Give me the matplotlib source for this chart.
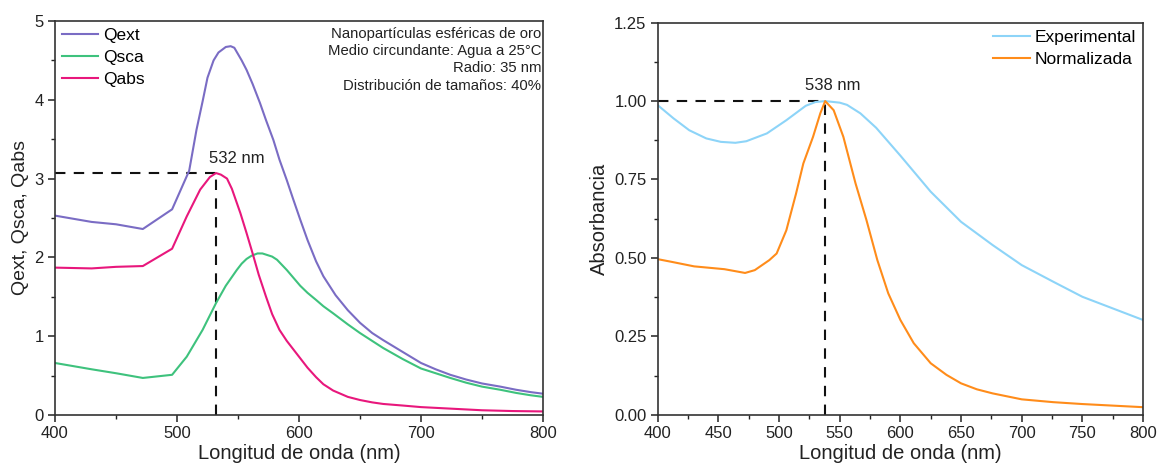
import matplotlib
matplotlib.use("Agg")
import matplotlib.pyplot as plt
from matplotlib.ticker import MultipleLocator, FormatStrFormatter

plt.rcParams['font.family'] = ['Liberation Sans', 'DejaVu Sans']

# Mie efficiencies for gold nanospheres (left panel)
wl_ext = [400, 430, 450, 472, 496, 510, 516, 521, 525, 530, 534, 540, 544, 547,
          553, 557, 562, 568, 573, 579, 584, 590, 595, 601, 607, 614, 620, 630,
          640, 650, 660, 669, 685, 700, 712, 724, 737, 750, 765, 778, 790, 800]
q_ext = [2.53, 2.45, 2.42, 2.36, 2.61, 3.10, 3.62, 3.98, 4.28, 4.50, 4.60, 4.67,
         4.68, 4.66, 4.50, 4.38, 4.20, 3.96, 3.74, 3.49, 3.24, 2.98, 2.75, 2.48,
         2.22, 1.95, 1.76, 1.52, 1.33, 1.17, 1.04, 0.95, 0.80, 0.66, 0.58, 0.51,
         0.45, 0.40, 0.36, 0.32, 0.29, 0.27]

wl_sca = [400, 430, 450, 472, 496, 508, 521, 532, 540, 549, 553, 557, 561, 566,
          570, 574, 578, 582, 590, 601, 607, 614, 620, 628, 640, 650, 660, 669,
          685, 700, 712, 724, 737, 750, 765, 778, 790, 800]
q_sca = [0.66, 0.58, 0.53, 0.47, 0.51, 0.74, 1.08, 1.42, 1.64, 1.84, 1.92, 1.98,
         2.02, 2.05, 2.05, 2.03, 2.01, 1.97, 1.84, 1.64, 1.55, 1.46, 1.38, 1.29,
         1.15, 1.04, 0.94, 0.85, 0.71, 0.59, 0.53, 0.47, 0.41, 0.36, 0.32, 0.28,
         0.25, 0.23]

wl_abs = [400, 430, 450, 472, 496, 508, 519, 527, 532, 536, 541, 545, 552, 557,
          562, 567, 573, 578, 584, 590, 595, 601, 607, 614, 620, 628, 640, 650,
          660, 669, 685, 700, 725, 750, 775, 800]
q_abs = [1.87, 1.86, 1.88, 1.89, 2.11, 2.52, 2.86, 3.02, 3.07, 3.05, 3.00, 2.87,
         2.56, 2.31, 2.05, 1.78, 1.50, 1.28, 1.08, 0.94, 0.84, 0.72, 0.60, 0.48,
         0.39, 0.31, 0.23, 0.19, 0.16, 0.14, 0.12, 0.10, 0.08, 0.06, 0.05, 0.045]

peak_abs_nm = 532
peak_abs_val = 3.07

# Measured absorbance spectra (right panel)
wl_exp = [400, 413, 426, 440, 452, 464, 473, 490, 506, 522, 530, 538, 550, 556,
          567, 580, 600, 625, 650, 676, 700, 726, 750, 775, 800]
a_exp = [0.987, 0.945, 0.907, 0.881, 0.870, 0.867, 0.872, 0.897, 0.939, 0.985,
         0.997, 1.000, 0.995, 0.988, 0.961, 0.915, 0.826, 0.711, 0.615, 0.541,
         0.477, 0.424, 0.376, 0.339, 0.302]

wl_norm = [400, 412, 430, 455, 472, 480, 492, 498, 506, 514, 520, 528, 534, 538,
           545, 553, 563, 572, 581, 590, 600, 611, 625, 638, 650, 663, 676, 700,
           726, 750, 775, 800]
a_norm = [0.496, 0.487, 0.473, 0.464, 0.452, 0.461, 0.493, 0.514, 0.588, 0.705,
          0.801, 0.886, 0.961, 1.000, 0.971, 0.886, 0.738, 0.621, 0.493, 0.387,
          0.302, 0.228, 0.164, 0.127, 0.100, 0.081, 0.068, 0.049, 0.040, 0.034,
          0.029, 0.024]

peak_norm_nm = 538
peak_norm_val = 1.0

info_lines = ["Nanopartículas esféricas de oro",
              "Medio circundante: Agua a 25°C",
              "Radio: 35 nm",
              "Distribución de tamaños: 40%"]

c_ext = "#7a6cc4"
c_sca = "#3ec27d"
c_abs = "#e8177c"
c_exp = "#8dd4f8"
c_norm = "#ff8c1a"
txt = "#222222"

fig = plt.figure(figsize=(11.6, 4.63), dpi=100)
ax1 = fig.add_axes([0.0474, 0.1037, 0.4207, 0.851])
ax2 = fig.add_axes([0.567, 0.1043, 0.4184, 0.8467])

lw = 1.5
dash = (0, (5, 4))

def style(ax):
    for s in ax.spines.values():
        s.set_linewidth(1.2)
        s.set_color("#333333")
    ax.tick_params(which="both", direction="out", top=False, right=False,
                   labelsize=12, colors=txt)
    ax.tick_params(which="major", length=5, width=1.1, pad=3)
    ax.tick_params(which="minor", length=3, width=1.0)

legend_kw = dict(frameon=False, fontsize=12.5, handlelength=2.1,
                 handletextpad=0.3, labelspacing=0.4, borderaxespad=0.3,
                 borderpad=0.1)

# Left panel
ax1.plot(wl_ext, q_ext, color=c_ext, lw=lw, label="Qext")
ax1.plot(wl_sca, q_sca, color=c_sca, lw=lw, label="Qsca")
ax1.plot(wl_abs, q_abs, color=c_abs, lw=lw, label="Qabs")
ax1.plot([400, peak_abs_nm], [peak_abs_val, peak_abs_val], color="#111111",
         ls=dash, lw=1.5, zorder=1)
ax1.plot([peak_abs_nm, peak_abs_nm], [0, peak_abs_val], color="#111111",
         ls=dash, lw=1.5, zorder=1)
ax1.text(peak_abs_nm + 17, peak_abs_val + 0.18, f"{peak_abs_nm} nm",
         ha="center", va="center", fontsize=12, color=txt)
ax1.set_xlim(400, 800)
ax1.set_ylim(0, 5)
ax1.xaxis.set_major_locator(MultipleLocator(100))
ax1.xaxis.set_minor_locator(MultipleLocator(50))
ax1.yaxis.set_major_locator(MultipleLocator(1))
ax1.yaxis.set_minor_locator(MultipleLocator(0.5))
ax1.set_xlabel("Longitud de onda (nm)", fontsize=14.5, labelpad=2, color=txt)
ax1.set_ylabel("Qext, Qsca, Qabs", fontsize=14, labelpad=4, color=txt)
style(ax1)
ax1.legend(loc="upper left", **legend_kw)
ax1.text(0.996, 0.985, "\n".join(info_lines), transform=ax1.transAxes,
         ha="right", va="top", fontsize=10.7, linespacing=1.3, color=txt)

# Right panel
ax2.plot(wl_exp, a_exp, color=c_exp, lw=lw, label="Experimental")
ax2.plot(wl_norm, a_norm, color=c_norm, lw=lw, label="Normalizada")
ax2.plot([400, peak_norm_nm], [peak_norm_val, peak_norm_val], color="#111111",
         ls=dash, lw=1.5, zorder=1)
ax2.plot([peak_norm_nm, peak_norm_nm], [0, peak_norm_val], color="#111111",
         ls=dash, lw=1.5, zorder=1)
ax2.text(peak_norm_nm + 6, peak_norm_val + 0.051, f"{peak_norm_nm} nm",
         ha="center", va="center", fontsize=12, color=txt)
ax2.set_xlim(400, 800)
ax2.set_ylim(0, 1.25)
ax2.xaxis.set_major_locator(MultipleLocator(50))
ax2.xaxis.set_minor_locator(MultipleLocator(25))
ax2.yaxis.set_major_locator(MultipleLocator(0.25))
ax2.yaxis.set_minor_locator(MultipleLocator(0.125))
ax2.yaxis.set_major_formatter(FormatStrFormatter("%.2f"))
ax2.set_xlabel("Longitud de onda (nm)", fontsize=14.5, labelpad=2, color=txt)
ax2.set_ylabel("Absorbancia", fontsize=14.5, labelpad=4, color=txt)
style(ax2)
ax2.legend(loc="upper right", **legend_kw)

fig.savefig("out.png", dpi=100)
